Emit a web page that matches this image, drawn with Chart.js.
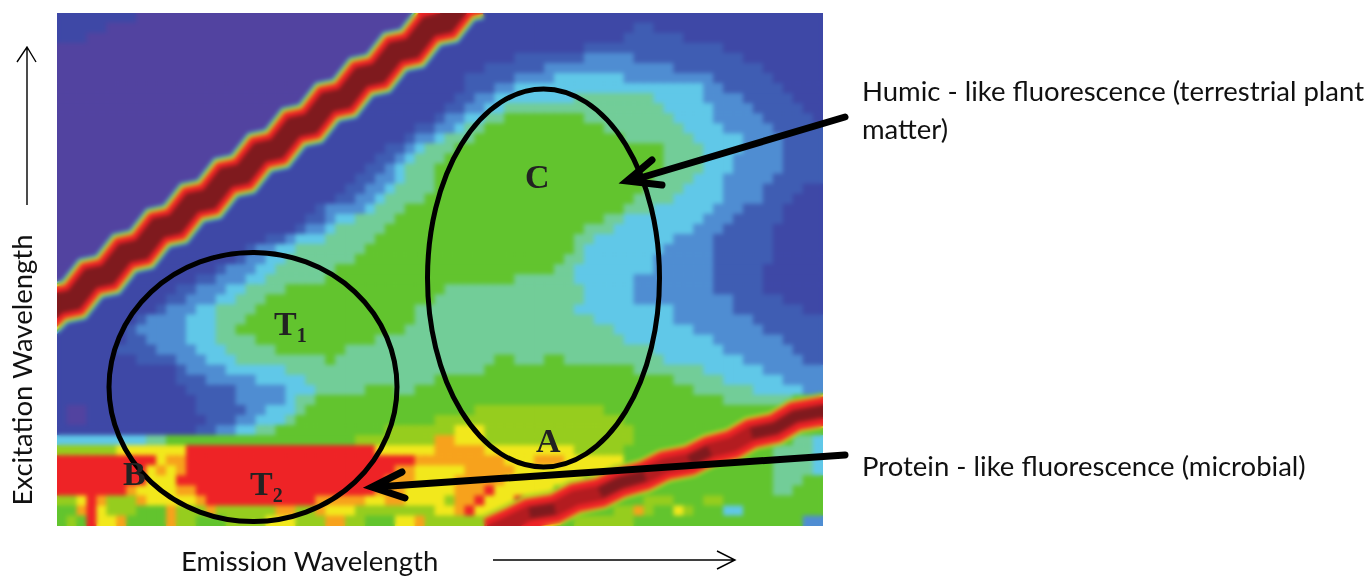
<!DOCTYPE html>
<html>
<head>
<meta charset="utf-8">
<title>Excitation emission matrix</title>
<script src="https://cdn.jsdelivr.net/npm/chart.js@4"></script>
<style>
  html, body { margin: 0; padding: 0; background: #fff; }
  #wrap { position: relative; width: 1369px; height: 579px; overflow: hidden; }
  #wrap canvas { position: absolute; left: 0; top: 0; }
  #marks { position: absolute; left: 0; top: 0; }
  .note { position: absolute; font-family: Lato, sans-serif; font-size: 27.5px; line-height: 30px; color: #111; white-space: nowrap; }
  .peak { position: absolute; font-family: "Liberation Serif", serif; font-weight: bold; font-size: 34px; line-height: 34px; color: #222; white-space: nowrap; }
  .peak sub { font-size: 20px; line-height: 0; vertical-align: -7px; }
</style>
</head>
<body>
<div id="wrap">
  <canvas id="eem" width="1369" height="579"></canvas>
  <svg id="marks" width="1369" height="579" fill="none" stroke="#000">
    <ellipse cx="543.5" cy="278" rx="116" ry="189" stroke-width="5"/>
    <ellipse cx="253" cy="387" rx="144" ry="134.5" stroke-width="5"/>
    <g stroke-width="7" stroke-linecap="round">
      <path d="M845 117L630 181M652 160L627 181L662 185"/>
      <path d="M845 455L376 487M402 472L372 487L405 498"/>
    </g>
    <g stroke-width="1.4">
      <path d="M27 205V47M17 62L27 47L36 62"/>
      <path d="M493 560H735M717 551L735 560L717 569"/>
    </g>
  </svg>
  <div class="note" style="left:862px;top:76px">Humic - like fluorescence (terrestrial plant</div>
  <div class="note" style="left:862px;top:114px">matter)</div>
  <div class="note" style="left:862px;top:451px">Protein - like fluorescence (microbial)</div>
  <div class="note" style="left:181px;top:546px">Emission Wavelength</div>
  <div class="note" style="left:22px;top:370px;transform:translate(-50%,-50%) rotate(-90deg)">Excitation Wavelength</div>
  <div class="peak" style="left:525px;top:160px">C</div>
  <div class="peak" style="left:274px;top:307px">T<sub>1</sub></div>
  <div class="peak" style="left:250px;top:467px">T<sub>2</sub></div>
  <div class="peak" style="left:536px;top:424px">A</div>
  <div class="peak" style="left:123px;top:457px">B</div>
</div>

<script>
// fluorescence level per grid row, written as level:endColumn runs
const contourRows = [
  "1:8 0:38 1:77",
  "1:5 0:37 1:58 2:60 1:77",
  "1:3 0:36 1:57 2:63 1:77",
  "0:34 1:53 2:67 1:77",
  "0:33 1:46 2:53 3:58 2:69 1:77",
  "0:32 1:43 2:49 3:62 2:71 1:77",
  "0:30 1:41 2:46 3:50 4:57 3:66 2:72 1:77",
  "0:29 1:41 2:44 3:46 4:65 3:67 2:73 1:77",
  "0:28 1:40 2:42 3:44 4:52 5:60 4:65 3:69 2:74 1:77",
  "0:26 1:39 2:41 3:43 4:45 5:61 4:66 3:70 2:75 1:77",
  "0:25 1:38 2:39 3:41 4:43 5:45 6:53 5:62 4:66 3:71 2:76 1:77",
  "0:24 1:36 2:38 3:40 4:41 5:43 6:55 5:63 4:67 3:72 2:77",
  "0:22 1:35 2:36 3:38 4:39 5:42 6:57 5:64 4:69 3:73 2:77",
  "0:21 1:33 2:35 3:36 4:37 5:40 6:61 5:65 4:69 3:73 2:77",
  "0:20 1:32 2:34 3:35 4:36 5:39 6:61 5:65 4:68 3:73 2:77",
  "0:18 1:31 2:33 3:34 4:35 5:38 6:61 5:65 4:68 3:73 2:77",
  "0:17 1:30 2:32 3:34 4:35 5:38 6:60 5:64 4:67 3:72 2:77",
  "0:16 1:29 2:31 3:33 4:34 5:38 6:59 5:63 4:67 3:71 2:75 1:77",
  "0:14 1:28 2:30 3:32 4:33 5:37 6:58 5:62 4:67 3:71 2:74 1:77",
  "0:13 1:26 2:27 3:31 4:32 5:35 6:57 5:60 4:66 3:69 2:73 1:77",
  "0:12 1:25 2:27 3:28 4:30 5:34 6:55 5:57 4:65 3:68 2:73 1:77",
  "0:10 1:24 2:25 3:27 4:28 5:33 6:53 5:56 4:64 3:67 2:72 1:77",
  "0:9 1:21 2:23 3:24 4:27 5:32 6:52 5:54 4:62 3:66 2:72 1:77",
  "0:8 1:19 2:20 3:22 4:24 5:31 6:52 5:53 4:61 3:66 2:72 1:77",
  "0:6 1:18 2:19 3:21 4:23 5:30 6:51 5:53 4:60 3:66 2:72 1:77",
  "0:5 1:16 2:17 3:20 4:22 5:28 6:50 5:52 4:60 3:66 2:71 1:77",
  "0:4 1:14 2:16 3:19 4:21 5:27 6:46 5:52 4:58 3:66 2:71 1:77",
  "0:2 1:12 2:14 3:17 4:19 5:23 6:39 5:53 4:58 3:66 2:71 1:77",
  "0:1 1:11 2:13 3:16 4:18 5:21 6:38 5:53 4:58 3:68 2:73 1:77",
  "1:10 2:11 3:14 4:16 5:20 6:36 5:52 4:62 3:68 2:75 1:77",
  "1:8 2:9 3:13 4:16 5:19 6:36 5:54 4:62 3:70 2:77",
  "1:7 2:8 3:13 4:16 5:18 6:35 5:56 4:64 3:71 2:77",
  "1:7 2:9 3:13 4:16 5:20 6:32 5:57 4:66 3:73 2:77",
  "1:6 2:10 3:14 4:17 5:22 6:29 5:60 4:67 3:74 2:77",
  "1:8 2:12 3:15 4:18 5:27 6:28 5:44 6:46 5:49 6:51 5:61 4:69 3:75 2:77",
  "1:12 2:13 3:17 4:23 5:43 6:58 5:65 4:71 3:77",
  "1:12 2:15 3:20 4:25 5:38 6:62 5:67 4:73 3:77",
  "1:13 2:18 3:23 4:26 5:31 6:34 5:36 6:64 5:70 4:75 3:77",
  "1:14 2:18 3:23 4:24 5:26 6:67 5:74 6:77",
  "1:1 0:3 1:14 2:19 3:21 4:24 5:25 6:42 7:55 6:77",
  "1:1 0:3 1:15 2:18 3:20 4:23 5:24 6:38 7:57 6:77",
  "1:14 2:16 3:18 4:20 5:22 6:33 7:40 8:43 7:58 6:77",
  "4:9 5:11 6:30 7:38 9:40 8:43 7:58 6:74 5:76 4:77",
  "7:6 8:13 a:32 8:38 9:43 8:52 7:57 6:72 5:76 4:77",
  "a:10 8:11 9:13 a:36 9:45 8:48 9:51 8:57 6:72 5:76 4:77",
  "a:9 8:10 9:11 8:12 9:13 a:34 9:36 8:41 9:46 8:56 6:72 5:76 4:77",
  "a:9 8:12 a:33 9:36 8:40 9:45 8:53 6:72 5:75 6:77",
  "a:7 9:8 8:12 9:14 a:32 9:35 8:40 9:43 a:44 8:50 6:72 5:74 6:77",
  "7:2 8:3 a:4 9:5 7:8 9:9 8:14 9:15 a:26 9:28 9:31 8:33 9:35 8:39 7:40 9:42 a:43 8:46 a:48 6:59 7:62 6:65 7:67 6:77",
  "6:2 9:3 a:4 8:5 7:8 6:11 9:12 7:15 9:16 7:22 9:24 7:26 9:27 8:30 7:38 8:40 9:41 a:42 8:45 a:50 6:56 7:58 9:59 7:60 6:62 8:63 7:64 6:67 4:69 6:77",
  "6:1 7:2 6:3 a:4 8:6 9:7 6:11 9:12 7:14 6:17 7:21 8:24 7:27 9:29 7:31 6:34 8:36 9:37 7:43 a:50 6:52 7:58 6:75 3:77"
];
const columnCount = 77;

// first order scatter ridge (column, row), stepped as in the scan
const upperRidgeCols = [-2, 0, 1.7, 3.4, 5.1, 6.8, 8.5, 10.2, 11.9, 13.6, 15.3, 17, 18.7, 20.4, 22.1, 23.8, 25.5, 27.2, 28.9, 30.6, 32.3, 34, 35.7, 37.4, 39.1, 40.8, 42.5];
const upperRidgeRows = [30.9, 28.87, 28.52, 26.37, 26.02, 23.87, 23.51, 21.36, 21.01, 18.86, 18.51, 16.36, 16.01, 13.86, 13.5, 11.35, 11, 8.85, 8.5, 6.35, 6, 3.85, 3.5, 1.34, 0.99, -1.16, -1.5];

// second order scatter ridge, core only where the scan goes dark
const lowerRidgeCols = [43.5, 45.5, 47.5, 50.05, 52.1, 54.6, 56.6, 59.1, 61.1, 63.6, 65.6, 67.9, 69.8, 72.2, 74.2, 78];
const lowerRidgeRows = [51.6, 50.7, 49.7, 49.3, 48.2, 47.7, 46.7, 46, 45, 44.5, 43.5, 42.9, 41.8, 41.3, 40.1, 39.4];
const lowerRidgeCore = [null, null, 49.7, 49.3, null, 47.7, 46.7, 46, null, 44.5, 43.5, null, 41.8, 41.3, 40.1, 39.4];

// colour of each level, low to high
const levelColors = {
  "0": "#5243a0", "1": "#3e48a6", "2": "#3f5db3", "3": "#4f8dd2",
  "4": "#60c8e8", "5": "#72cd98", "6": "#62c42e", "7": "#96cd1e",
  "8": "#f2e81c", "9": "#f7a21c", "a": "#ee2326", "b": "#7f1a1e"
};

// turn the runs into one point per cell
let cells = [];
let cellColors = [];
contourRows.forEach((row, rowIndex) => {
  let col = 0;
  row.split(" ").forEach((run) => {
    let parts = run.split(":");
    for (; col < Number(parts[1]); col++) {
      cells.push({ x: col + 0.5, y: rowIndex + 0.5 });
      cellColors.push(levelColors[parts[0]]);
    }
  });
});

function ridgeLine(cols, rows, color, width) {
  return {
    data: cols.map((col, i) => ({ x: col, y: rows[i] })),
    showLine: true,
    spanGaps: false,
    borderColor: color,
    borderWidth: width,
    borderJoinStyle: "miter",
    pointRadius: 0,
    clip: 0
  };
}

// the scan is soft, so lay a blurred copy of the plot over itself
const softenPlot = {
  id: "softenPlot",
  afterDatasetsDraw(chart) {
    let ctx = chart.ctx;
    let area = chart.chartArea;
    ctx.save();
    ctx.beginPath();
    ctx.rect(area.left, area.top, area.width, area.height);
    ctx.clip();
    ctx.filter = "blur(2px)";
    ctx.drawImage(chart.canvas, 0, 0);
    ctx.restore();
  }
};

new Chart(document.getElementById("eem"), {
  type: "scatter",
  data: {
    // first dataset ends up on top
    datasets: [
      ridgeLine(upperRidgeCols, upperRidgeRows, levelColors.b, 21),
      ridgeLine(upperRidgeCols, upperRidgeRows, levelColors.a, 33),
      ridgeLine(upperRidgeCols, upperRidgeRows, levelColors["8"], 37),
      ridgeLine(upperRidgeCols, upperRidgeRows, levelColors["6"], 40),
      ridgeLine(upperRidgeCols, upperRidgeRows, levelColors["4"], 43),
      ridgeLine(lowerRidgeCols, lowerRidgeCore, levelColors.b, 11),
      ridgeLine(lowerRidgeCols, lowerRidgeRows, "#b31c20", 15),
      ridgeLine(lowerRidgeCols, lowerRidgeRows, levelColors.a, 29),
      ridgeLine(lowerRidgeCols, lowerRidgeRows, levelColors["8"], 33),
      ridgeLine(lowerRidgeCols, lowerRidgeRows, levelColors["6"], 36),
      {
        data: cells,
        pointStyle: "rect",
        pointRadius: 7.6,
        pointBorderWidth: 0,
        pointBackgroundColor: cellColors,
        clip: 0
      }
    ]
  },
  options: {
    responsive: false,
    animation: false,
    events: [],
    layout: { padding: { left: 57, right: 546, top: 13, bottom: 53 } },
    plugins: { legend: { display: false }, tooltip: { enabled: false } },
    scales: {
      x: { display: false, min: 0, max: columnCount },
      y: { display: false, min: 0, max: contourRows.length, reverse: true }
    }
  },
  plugins: [softenPlot]
});
</script>
</body>
</html>
